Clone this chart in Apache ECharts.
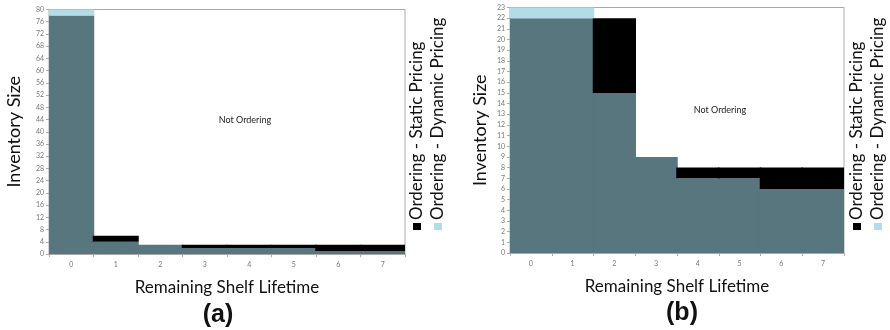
<!DOCTYPE html>
<html>
<head>
<meta charset="utf-8">
<script src="https://cdn.jsdelivr.net/npm/echarts@6/dist/echarts.min.js"></script>
<style>html,body{margin:0;padding:0;background:#fff}#c{width:890px;height:330px}</style>
</head>
<body>
<div id="c"></div>
<script>
var categories = ['0','1','2','3','4','5','6','7'];
var seriesNames = ['Ordering - Static Pricing', 'Ordering - Dynamic Pricing'];
// Panel (a)
var aBoth    = [78, 4, 3, 2, 2, 2, 1, 1];
var aStatic  = [0, 2, 0, 1, 1, 1, 2, 2];
var aDynamic = [2, 0, 0, 0, 0, 0, 0, 0];
// Panel (b)
var bBoth    = [22, 22, 15, 9, 7, 7, 6, 6];
var bStatic  = [0, 0, 7, 0, 1, 1, 2, 2];
var bDynamic = [1, 1, 0, 0, 0, 0, 0, 0];
var yMaxA = 80, yStepA = 4;
var yMaxB = 23, yStepB = 1;
var panelLabels = ['(a)', '(b)'];
var xTitle = 'Remaining Shelf Lifetime';
var yTitle = 'Inventory Size';
var regionLabel = 'Not Ordering';

var TEAL = '#58767e', BLACK = '#000000', LBLUE = '#b2dce8';
var FONT = 'Lato, "Open Sans", sans-serif';
var GRID_A = {left: 49, top: 9.5, width: 356, height: 244.5};
var GRID_B = {left: 510, top: 7.5, width: 334, height: 245.5};

var chart = echarts.init(document.getElementById('c'), null, {renderer: 'canvas'});

function xAx(gi) {
  return {
    type: 'category', gridIndex: gi, data: categories, boundaryGap: true,
    name: xTitle, nameLocation: 'middle', nameGap: 25,
    nameTextStyle: {fontFamily: FONT, fontSize: 17, color: '#111'},
    axisLine: {lineStyle: {color: '#aaa'}},
    axisTick: {show: true, length: 3, lineStyle: {color: '#aaa'}},
    splitLine: {show: false},
    splitArea: {show: false},
    axisLabel: {fontSize: 7, color: '#777', margin: 7, fontFamily: FONT}
  };
}
function yAx(gi, max, step, gap) {
  return {
    type: 'value', gridIndex: gi, min: 0, max: max, interval: step,
    name: yTitle, nameLocation: 'middle', nameRotate: 90, nameGap: gap,
    nameTextStyle: {fontFamily: FONT, fontSize: 18, color: '#111'},
    axisLine: {show: true, lineStyle: {color: '#aaa'}},
    axisTick: {show: true, length: 3, lineStyle: {color: '#aaa'}},
    splitLine: {show: false},
    axisLabel: {fontSize: 7, color: '#777', margin: 5, fontFamily: FONT}
  };
}
function bar(name, gi, data, color, stack, grid) {
  return {
    name: name, type: 'bar', xAxisIndex: gi, yAxisIndex: gi, stack: stack,
    data: data.map(function (v) { return v === 0 ? '-' : v; }),
    barWidth: grid.width / categories.length + 1.5,
    itemStyle: {color: color},
    silent: true, animation: false
  };
}

var graphics = [];
function legendBlock(x0, x1, bottom) {
  var colors = [BLACK, LBLUE];
  var xs = [x0, x1];
  for (var i = 0; i < 2; i++) {
    graphics.push({type: 'rect', shape: {x: xs[i] - 4, y: bottom - 7, width: 8, height: 7},
      style: {fill: colors[i]}});
    graphics.push({type: 'text', x: xs[i], y: bottom - 10, rotation: Math.PI / 2,
      style: {text: seriesNames[i], fill: '#111', fontSize: 17, fontFamily: FONT,
        align: 'left', verticalAlign: 'middle'}});
  }
}
legendBlock(417, 438, 230);
legendBlock(857, 878, 230);
graphics.push({type: 'text', x: 218, y: 315, style: {text: panelLabels[0], fill: '#111',
  fontSize: 25, fontWeight: 'bold', fontFamily: '"Liberation Sans", Arial, sans-serif', align: 'center', verticalAlign: 'middle'}});
graphics.push({type: 'text', x: 682, y: 313, style: {text: panelLabels[1], fill: '#111',
  fontSize: 25, fontWeight: 'bold', fontFamily: '"Liberation Sans", Arial, sans-serif', align: 'center', verticalAlign: 'middle'}});
graphics.push({type: 'text', x: 245, y: 120, style: {text: regionLabel, fill: '#222',
  fontSize: 9, fontFamily: FONT, align: 'center', verticalAlign: 'middle'}});
graphics.push({type: 'text', x: 720, y: 110, style: {text: regionLabel, fill: '#222',
  fontSize: 9, fontFamily: FONT, align: 'center', verticalAlign: 'middle'}});

function gridOpt(g) {
  return {left: g.left, top: g.top, width: g.width, height: g.height,
    show: true, borderColor: '#aaa', borderWidth: 1, backgroundColor: '#fff'};
}

chart.setOption({
  backgroundColor: '#fff',
  animation: false,
  grid: [gridOpt(GRID_A), gridOpt(GRID_B)],
  xAxis: [xAx(0), xAx(1)],
  yAxis: [yAx(0, yMaxA, yStepA, 26), yAx(1, yMaxB, yStepB, 21)],
  series: [
    bar('Ordering', 0, aBoth, TEAL, 'a', GRID_A),
    bar(seriesNames[0], 0, aStatic, BLACK, 'a', GRID_A),
    bar(seriesNames[1], 0, aDynamic, LBLUE, 'a', GRID_A),
    bar('Ordering', 1, bBoth, TEAL, 'b', GRID_B),
    bar(seriesNames[0], 1, bStatic, BLACK, 'b', GRID_B),
    bar(seriesNames[1], 1, bDynamic, LBLUE, 'b', GRID_B)
  ],
  graphic: graphics
});
</script>
</body>
</html>
